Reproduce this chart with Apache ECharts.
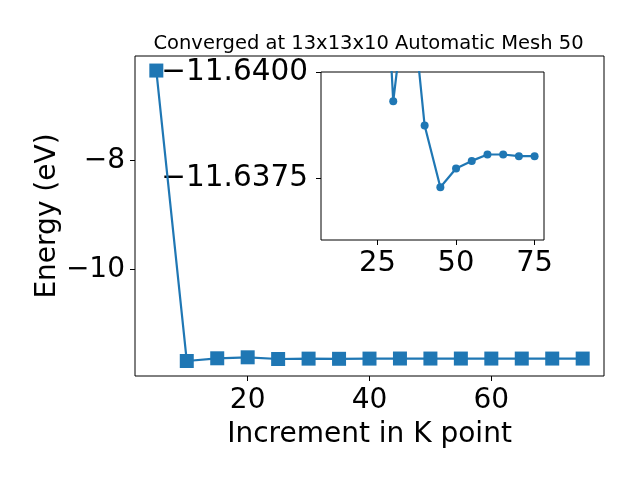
<!DOCTYPE html>
<html>
<head>
<meta charset="utf-8">
<script src="https://cdn.jsdelivr.net/npm/echarts@6/dist/echarts.min.js"></script>
<style>html,body{margin:0;padding:0;background:#fff}#c{width:640px;height:480px}</style>
</head>
<body>
<div id="c"></div>
<script>
var kPoints = [5, 10, 15, 20, 25, 30, 35, 40, 45, 50, 55, 60, 65, 70, 75];
var energies = [-6.353, -11.683, -11.633, -11.615, -11.6462, -11.63931, -11.6424, -11.63874, -11.63729, -11.63773, -11.63791, -11.63806, -11.63806, -11.63802, -11.63802];
var insetStartK = 25;
var mainXTicks = [20, 40, 60];
var mainYTicks = [-10, -8];
var insetXTicks = [25, 50, 75];
var insetYTicks = [-11.6400, -11.6375];
var titleText = 'Converged at 13x13x10 Automatic Mesh 50';
var xName = 'Increment in K point';
var yName = 'Energy (eV)';

var pairs = kPoints.map(function (k, i) { return [k, energies[i]]; });
var insetPairs = pairs.filter(function (p) { return p[0] >= insetStartK; });
var FONT = 'DejaVu Sans';
var BLUE = '#1f77b4';
function minusFmt(digits) {
  return function (v) {
    var s = digits != null ? Number(v).toFixed(digits) : String(v);
    return s.replace('-', '\u2212');
  };
}
var chart = echarts.init(document.getElementById('c'), null, {renderer: 'canvas'});
chart.setOption({
  animation: false,
  backgroundColor: '#fff',
  title: {
    text: titleText, left: 363.5, textAlign: 'center', top: 29,
    textStyle: {fontFamily: FONT, fontSize: 19.5, fontWeight: 'normal', color: '#000'}
  },
  grid: [
    {left: 135, top: 56, width: 469, height: 320, show: true, borderColor: '#000', borderWidth: 1, backgroundColor: 'transparent'},
    {left: 321, top: 72, width: 223, height: 168, show: true, borderColor: '#000', borderWidth: 1, backgroundColor: '#fff', z: 5}
  ],
  xAxis: [
    {
      type: 'value', gridIndex: 0, min: 1.5, max: 78.5,
      name: xName, nameLocation: 'middle', nameGap: 45, nameMoveOverlap: false,
      nameTextStyle: {fontFamily: FONT, fontSize: 28, color: '#000'},
      axisLine: {show: false}, splitLine: {show: false},
      axisTick: {show: true, inside: false, length: 5, customValues: mainXTicks, lineStyle: {color: '#000'}},
      axisLabel: {fontFamily: FONT, fontSize: 28, color: '#000', margin: 11, customValues: mainXTicks}
    },
    {
      type: 'value', gridIndex: 1, min: 7, max: 78,
      axisLine: {show: false}, splitLine: {show: false},
      axisTick: {show: true, inside: false, length: 5, customValues: insetXTicks, lineStyle: {color: '#000'}},
      axisLabel: {fontFamily: FONT, fontSize: 29, color: '#000', margin: 9, customValues: insetXTicks}
    }
  ],
  yAxis: [
    {
      type: 'value', gridIndex: 0, min: -11.958, max: -6.086,
      name: yName, nameLocation: 'middle', nameGap: 73, nameRotate: 90, nameMoveOverlap: false,
      nameTextStyle: {fontFamily: FONT, fontSize: 28, color: '#000'},
      axisLine: {show: false}, splitLine: {show: false},
      axisTick: {show: true, inside: false, length: 5, customValues: mainYTicks, lineStyle: {color: '#000'}},
      axisLabel: {fontFamily: FONT, fontSize: 28, color: '#000', margin: 10, customValues: mainYTicks, formatter: minusFmt()}
    },
    {
      type: 'value', gridIndex: 1, min: -11.6400, max: -11.63605, inverse: true,
      axisLine: {show: false}, splitLine: {show: false},
      axisTick: {show: true, inside: false, length: 5, customValues: insetYTicks, lineStyle: {color: '#000'}},
      axisLabel: {fontFamily: FONT, fontSize: 29.5, color: '#000', margin: 13, customValues: insetYTicks, formatter: minusFmt(4)}
    }
  ],
  series: [
    {
      type: 'line', xAxisIndex: 0, yAxisIndex: 0, data: pairs,
      symbol: 'rect', symbolSize: 14, showAllSymbol: true,
      lineStyle: {color: BLUE, width: 2.2}, itemStyle: {color: BLUE}
    },
    {
      type: 'line', xAxisIndex: 1, yAxisIndex: 1, data: insetPairs, z: 6,
      symbol: 'circle', symbolSize: 8, showAllSymbol: true, clip: true,
      lineStyle: {color: BLUE, width: 2.2}, itemStyle: {color: BLUE}
    }
  ]
});
</script>
</body>
</html>
